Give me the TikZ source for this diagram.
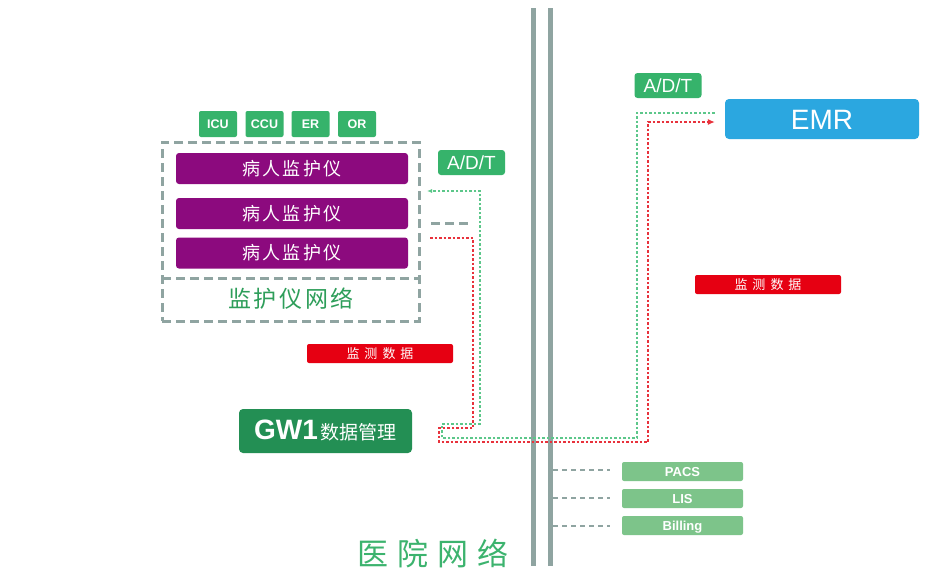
\documentclass[tikz,border=0pt]{standalone}
\usepackage{fontspec}
\setmainfont{Liberation Sans}
\newfontfamily\cjk{Noto Sans CJK SC}
\usetikzlibrary{positioning,arrows.meta}

\definecolor{barGray}{HTML}{8FA4A1}
\definecolor{adtGreen}{HTML}{36B36B}
\definecolor{gwGreen}{HTML}{238F54}
\definecolor{monPurple}{HTML}{8C0A7E}
\definecolor{dataRed}{HTML}{E60012}
\definecolor{emrBlue}{HTML}{2BA7E0}
\definecolor{sysGreen}{HTML}{7DC48A}
\definecolor{netGreen}{HTML}{2E9E5A}
\definecolor{hospGreen}{HTML}{3CB36E}
\definecolor{flowGreen}{HTML}{5CC78A}
\definecolor{flowRed}{HTML}{E8323C}

\newcommand{\fsz}[1]{\fontsize{#1}{#1}\selectfont}

\tikzset{
  ward/.style={fill=adtGreen, rounded corners=2pt, minimum width=38pt, minimum height=26pt, inner sep=0pt, text=white, text height=9pt, text depth=0pt, font=\fsz{12.5}\bfseries},
  monitor/.style={fill=monPurple, rounded corners=3pt, minimum width=232pt, minimum height=31pt, inner sep=0pt, text=white, font=\cjk\fsz{18}},
  adt/.style={fill=adtGreen, rounded corners=3pt, minimum width=67pt, minimum height=25pt, inner sep=0pt, text=white, text height=13.5pt, text depth=0pt, font=\fsz{19}},
  datalabel/.style={fill=dataRed, rounded corners=2pt, minimum width=146pt, minimum height=19pt, inner sep=0pt, text=white, font=\cjk\fsz{13}},
  sysbox/.style={fill=sysGreen, rounded corners=2pt, minimum width=121pt, minimum height=19pt, inner sep=0pt, text=white, text height=9.5pt, text depth=0pt, font=\fsz{13}\bfseries},
  netframe/.style={draw=barGray, line width=3pt, dash pattern=on 9pt off 5pt},
  bar/.style={draw=barGray, line width=5pt},
  tap/.style={draw=barGray, line width=1.5pt, dash pattern=on 5pt off 4pt},
  adtflow/.style={draw=flowGreen, line width=1.2pt, dash pattern=on 2.5pt off 2pt},
  dataflow/.style={draw=flowRed, line width=1.2pt, dash pattern=on 2.5pt off 2pt},
}

\begin{document}
\begin{tikzpicture}[x=1pt,y=-1pt]
\useasboundingbox[fill=white] (0,0) rectangle (948,581);

% hospital network backbone
\draw[bar] (533.5,8) -- (533.5,566);
\draw[bar] (550.5,8) -- (550.5,566);
\node[text=hospGreen, font=\cjk\fsz{31}] (hosp) at (433,553) {医\hspace{9pt}院\hspace{9pt}网\hspace{9pt}络};

% monitor network
\node[netframe, minimum width=257pt, minimum height=179pt, inner sep=0pt] (netbox) at (290.5,231.5) {};
\draw[netframe] (162,278) -- (419,278);
\node[text=netGreen, font=\cjk\fsz{23}] (netname) at (291,299) {监\hspace{2.5pt}护\hspace{2.5pt}仪\hspace{2.5pt}网\hspace{2.5pt}络};

\node[ward] (icu) at (218,124) {ICU};
\node[ward] (ccu) at (264.5,124) {CCU};
\node[ward] (er) at (310.5,124) {ER};
\node[ward] (or) at (357,124) {OR};

\node[monitor] (mon1) at (292,168.5) {病\hspace{2.5pt}人\hspace{2.5pt}监\hspace{2.5pt}护\hspace{2.5pt}仪};
\node[monitor] (mon2) at (292,213.5) {病\hspace{2.5pt}人\hspace{2.5pt}监\hspace{2.5pt}护\hspace{2.5pt}仪};
\node[monitor] (mon3) at (292,253) {病\hspace{2.5pt}人\hspace{2.5pt}监\hspace{2.5pt}护\hspace{2.5pt}仪};

\draw[netframe] (431,223) -- (472,223);

% labels
\node[adt] (adtL) at (471.5,162.5) {A/D/T};
\node[adt] (adtR) at (668,85.5) {A/D/T};
\node[datalabel] (dataL) at (380,353.5) {监\hspace{5pt}测\hspace{5pt}数\hspace{5pt}据};
\node[datalabel] (dataR) at (768,284.5) {监\hspace{5pt}测\hspace{5pt}数\hspace{5pt}据};

% gateway and EMR
\node[fill=gwGreen, rounded corners=4pt, minimum width=173pt, minimum height=44pt, inner sep=0pt, text=white] (gw) at (325.5,431)
  {{\fsz{28}\bfseries GW1}\hspace{3pt}{\cjk\fsz{19}数据管理}};
\node[fill=emrBlue, rounded corners=4pt, minimum width=194pt, minimum height=40pt, inner sep=0pt, text=white, text height=20pt, text depth=0pt, font=\fsz{28}] (emr) at (822,119) {EMR};

% flows
\coordinate (redstart) at (430,238);
\coordinate (adtend) at (427,191);
\draw[dataflow,-{Latex[length=7pt,width=6pt]}] (redstart) -- (473,238) -- (473,428) -- (439,428) -- (439,442) -- (648,442) -- (648,122) -- ([yshift=-3pt,xshift=-10pt]emr.west);
\draw[adtflow,-{Latex[length=5pt,width=4pt]}] ([yshift=6pt,xshift=-10pt]emr.west) -- (637,113) -- (637,438) -- (442,438) -- (442,424) -- (480,424) -- (480,191) -- (adtend);

% other systems
\node[sysbox] (pacs) at (682.5,471.5) {PACS};
\node[sysbox] (lis) at (682.5,498.5) {LIS};
\node[sysbox] (billing) at (682.5,525.5) {Billing};
\draw[tap] (553,470) -- ([xshift=-12pt]pacs.west |- 0,470);
\draw[tap] (553,498) -- ([xshift=-12pt]lis.west |- 0,498);
\draw[tap] (553,526) -- ([xshift=-12pt]billing.west |- 0,526);

\end{tikzpicture}
\end{document}
